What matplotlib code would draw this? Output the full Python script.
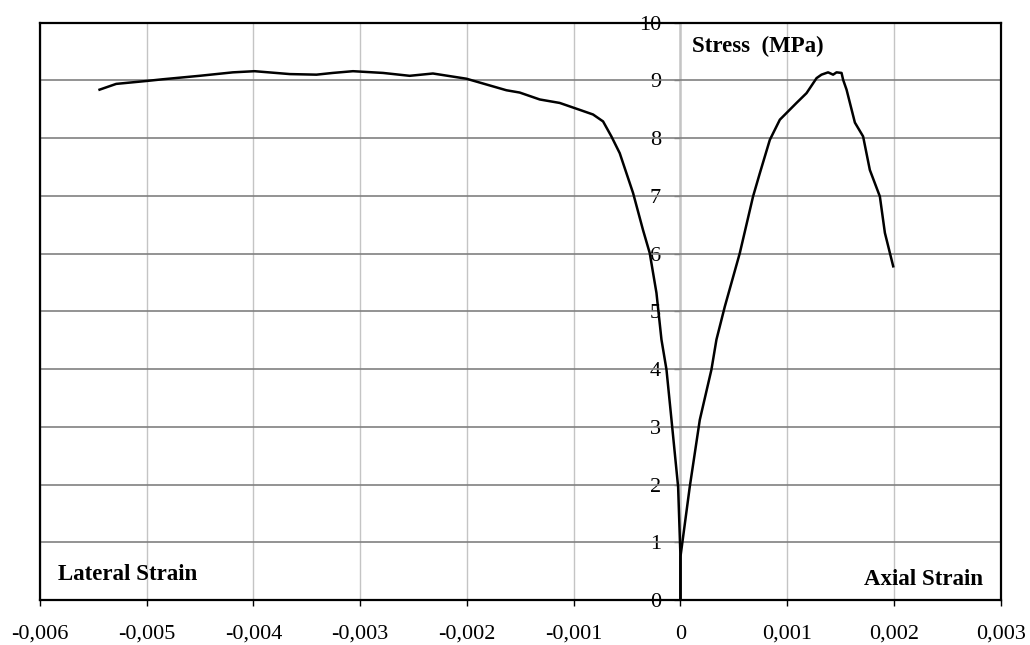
import matplotlib.pyplot as plt
from matplotlib.ticker import FuncFormatter

plt.rcParams['font.family'] = ['Liberation Serif', 'DejaVu Serif']

# ---- Data ----
# lateral strain branch (negative x)
lat_strain = [0.0, 0.0, -0.000022, -0.000053, -0.000084, -0.000131, -0.000178,
              -0.000225, -0.000288, -0.000351, -0.000444, -0.000569, -0.000647,
              -0.000725, -0.000819, -0.000943, -0.001131, -0.001318, -0.001506,
              -0.001631, -0.002006, -0.002319, -0.002537, -0.002787, -0.003068,
              -0.003256, -0.00341, -0.00366, -0.00399, -0.004193, -0.004505,
              -0.00485, -0.005005, -0.005286, -0.005442]
lat_stress = [0.0, 0.75, 1.96, 2.54, 3.12, 3.99, 4.51,
              5.32, 6.01, 6.41, 7.05, 7.74, 8.03,
              8.29, 8.41, 8.49, 8.61, 8.67, 8.79,
              8.83, 9.03, 9.12, 9.08, 9.13, 9.16,
              9.13, 9.10, 9.11, 9.16, 9.14, 9.08,
              9.02, 8.99, 8.94, 8.84]

# axial strain branch (positive x)
ax_strain = [0.0, 0.0, 0.000087, 0.000181, 0.00029, 0.000337, 0.000415,
             0.000556, 0.00068, 0.000743, 0.000837, 0.000931, 0.001087,
             0.001181, 0.001275, 0.001321, 0.001383, 0.00143, 0.001462,
             0.001509, 0.001524, 0.001556, 0.001634, 0.001711, 0.001774,
             0.001868, 0.001915, 0.001993]
ax_stress = [0.0, 0.75, 1.96, 3.12, 3.99, 4.51, 5.08,
             6.01, 6.99, 7.39, 7.97, 8.32, 8.61,
             8.78, 9.04, 9.10, 9.14, 9.10, 9.14,
             9.13, 9.01, 8.84, 8.27, 8.03, 7.45,
             6.99, 6.36, 5.78]

x_ticks = [-0.006, -0.005, -0.004, -0.003, -0.002, -0.001, 0, 0.001, 0.002, 0.003]
y_ticks = list(range(0, 11))

# ---- Plot ----
fig = plt.figure(figsize=(10.3, 6.45), dpi=100)
ax = fig.add_axes([40 / 1030, 45 / 645, 960.7 / 1030, 577.3 / 645])

ax.plot(lat_strain, lat_stress, color='black', linewidth=1.8, zorder=3)
ax.plot(ax_strain, ax_stress, color='black', linewidth=1.8, zorder=3)

ax.set_xlim(-0.006, 0.003)
ax.set_ylim(0, 10)
ax.set_xticks(x_ticks)
ax.set_yticks(y_ticks)
ax.xaxis.set_major_formatter(FuncFormatter(
    lambda v, p: '0' if abs(v) < 1e-12 else f"{v:.3f}".replace('.', ',')))
ax.tick_params(axis='x', direction='out', length=4, width=1, labelsize=16, pad=14)
ax.tick_params(axis='y', left=False, labelleft=False)

# gridlines: light vertical, darker horizontal
ax.grid(True, axis='x', color='#c4c4c4', linewidth=1, zorder=0)
ax.grid(True, axis='y', color='#808080', linewidth=1.2, zorder=0)
ax.axvline(0, color='#8a8a8a', linewidth=1, zorder=1)

for s in ax.spines.values():
    s.set_color('black')
    s.set_linewidth(1.6)

# y axis crossing at x = 0
sec = ax.secondary_yaxis(6 / 9)
sec.set_alignment('left')
sec.set_yticks(y_ticks)
sec.spines['left'].set_color('#8a8a8a')
sec.spines['left'].set_linewidth(1)
sec.tick_params(axis='y', direction='out', length=4, width=1, color='#808080',
                labelsize=16, pad=10)

ax.text(0.6787, 0.958, "Stress  (MPa)", transform=ax.transAxes, fontsize=16.5,
        fontweight='bold', ha='left', va='center')
ax.text(0.0187, 0.045, "Lateral Strain", transform=ax.transAxes, fontsize=16.5,
        fontweight='bold', ha='left', va='center')
ax.text(0.9816, 0.036, "Axial Strain", transform=ax.transAxes, fontsize=16.5,
        fontweight='bold', ha='right', va='center')

fig.savefig("out.png", dpi=100)
